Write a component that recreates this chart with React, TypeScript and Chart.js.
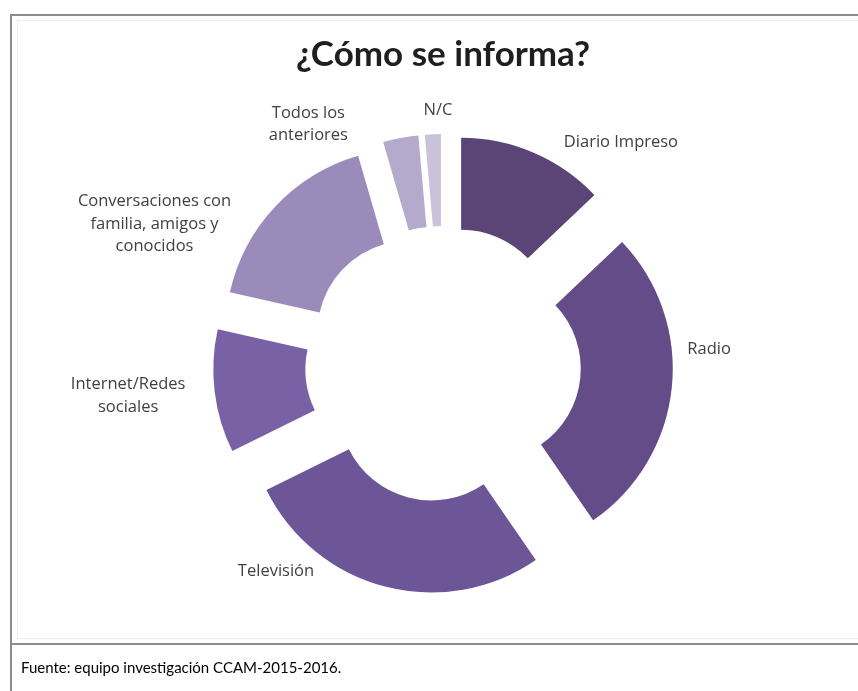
import React, { useEffect, useRef } from 'react';
import { Chart, registerables, ArcElement } from 'chart.js';

Chart.register(...registerables);

// ---- data ----
const categories = [
  'Diario Impreso',
  'Radio',
  'Televisión',
  'Internet/Redes sociales',
  'Conversaciones con familia, amigos y conocidos',
  'Todos los anteriores',
  'N/C',
];
const labelLines = [
  ['Diario Impreso'],
  ['Radio'],
  ['Televisión'],
  ['Internet/Redes', 'sociales'],
  ['Conversaciones con', 'familia, amigos y', 'conocidos'],
  ['Todos los', 'anteriores'],
  ['N/C'],
];
const values = [12.9, 27.5, 27.3, 10.8, 17.0, 3.1, 1.4];
const colors = ['#5b4476', '#644c88', '#6c5697', '#7961a6', '#9a8bbb', '#b4aacb', '#cac2da'];

const titleText = '¿Cómo se informa?';
const sourceText = 'Fuente: equipo investigación CCAM-2015-2016.';

// ---- layout constants ----
const EXPLODE = 46;
const labelAngleShift = [15.5, -9.0, 24.3, 1.1, -17.3, -18.7, 1.4];
const labelRadiusFactor = [1.546, 1.448, 1.446, 1.72, 1.743, 1.494, 1.38];
const LABEL_FONT = '16.5px "Open Sans"';
const LABEL_LINE_H = 22.5;

const explodePlugin = {
  id: 'explodeSlices',
  beforeDatasetDraw(_chart: any, args: any) {
    args.meta.data.forEach((arc: any) => {
      if (arc.__exploded) return;
      const base = ArcElement.prototype.draw;
      arc.draw = function (ctx: CanvasRenderingContext2D, area: any) {
        const mid = (this.startAngle + this.endAngle) / 2;
        ctx.save();
        ctx.translate(Math.cos(mid) * EXPLODE, Math.sin(mid) * EXPLODE);
        base.call(this, ctx, area);
        ctx.restore();
      };
      arc.__exploded = true;
    });
  },
};

const labelPlugin = {
  id: 'sliceLabels',
  afterDatasetsDraw(chart: any) {
    const meta = chart.getDatasetMeta(0);
    const ctx: CanvasRenderingContext2D = chart.ctx;
    ctx.save();
    ctx.font = LABEL_FONT;
    ctx.fillStyle = '#404040';
    ctx.textAlign = 'center';
    ctx.textBaseline = 'middle';
    meta.data.forEach((arc: any, i: number) => {
      const ang = (arc.startAngle + arc.endAngle) / 2 + (labelAngleShift[i] * Math.PI) / 180;
      const r = arc.outerRadius * labelRadiusFactor[i];
      const x = arc.x + Math.cos(ang) * r;
      const y = arc.y + Math.sin(ang) * r;
      const lines = labelLines[i];
      lines.forEach((ln, j) => {
        ctx.fillText(ln, x, y + (j - (lines.length - 1) / 2) * LABEL_LINE_H);
      });
    });
    ctx.restore();
  },
};

export default function App() {
  const canvasRef = useRef<HTMLCanvasElement | null>(null);

  useEffect(() => {
    if (!canvasRef.current) return;
    const chart = new Chart(canvasRef.current, {
      type: 'doughnut',
      data: {
        labels: categories,
        datasets: [
          {
            data: values,
            backgroundColor: colors,
            borderWidth: 0,
            hoverOffset: 0,
            offset: 0,
            clip: false as any,
          },
        ],
      },
      options: {
        responsive: false,
        animation: false,
        radius: 184,
        cutout: '50%',
        rotation: 0,
        layout: { padding: { left: 243, right: 215, top: 164, bottom: 127 } },
        plugins: {
          legend: { display: false },
          tooltip: { enabled: false },
          title: { display: false },
        },
        events: [],
      } as any,
      plugins: [explodePlugin, labelPlugin],
    });
    return () => chart.destroy();
  }, []);

  return (
    <div
      style={{
        position: 'absolute',
        left: 0,
        top: 0,
        width: 858,
        height: 691,
        overflow: 'hidden',
        background: '#ffffff',
      }}
    >
      {/* outer frame */}
      <div
        style={{
          position: 'absolute',
          left: 10,
          top: 14,
          width: 900,
          height: 700,
          borderLeft: '2px solid #8c8c8c',
          borderTop: '2px solid #8c8c8c',
        }}
      />
      {/* faint inner chart border */}
      <div
        style={{
          position: 'absolute',
          left: 17,
          top: 20,
          width: 900,
          height: 617,
          border: '1px solid #ececec',
        }}
      />
      {/* separator */}
      <div
        style={{
          position: 'absolute',
          left: 10,
          top: 643,
          width: 860,
          height: 2,
          background: '#8c8c8c',
        }}
      />
      <canvas
        ref={canvasRef}
        width={858}
        height={691}
        style={{ position: 'absolute', left: 0, top: 0, width: 858, height: 691 }}
      />
      <div
        style={{
          position: 'absolute',
          left: 143,
          top: 32,
          width: 600,
          textAlign: 'center',
          font: 'bold 35px Lato',
          lineHeight: '40px',
          color: '#1f1f1f',
        }}
      >
        {titleText}
      </div>
      <div
        style={{
          position: 'absolute',
          left: 21,
          top: 656,
          font: '15px Lato',
          lineHeight: '22px',
          color: '#000000',
          whiteSpace: 'nowrap',
        }}
      >
        {sourceText}
      </div>
    </div>
  );
}
